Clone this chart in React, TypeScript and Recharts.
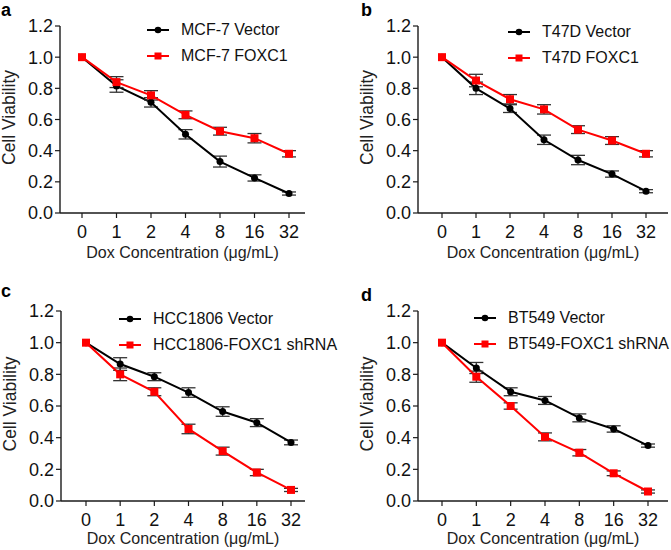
import React from 'react';
import { LineChart, Line, XAxis, YAxis, ErrorBar, Legend } from 'recharts';

const doses = ['0', '1', '2', '4', '8', '16', '32'];
const yTicks = [0, 0.2, 0.4, 0.6, 0.8, 1.0, 1.2];

// Panel a: MCF-7
const mcf7VectorNames = ['MCF-7 Vector', 'MCF-7 FOXC1'];
const mcf7Vector = [1.0, 0.815, 0.71, 0.505, 0.33, 0.225, 0.125];
const mcf7VectorErr = [0, 0.04, 0.03, 0.03, 0.035, 0.02, 0.01];
const mcf7Foxc1 = [1.0, 0.84, 0.755, 0.63, 0.525, 0.48, 0.38];
const mcf7Foxc1Err = [0, 0.035, 0.03, 0.025, 0.025, 0.03, 0.02];

// Panel b: T47D
const t47dNames = ['T47D Vector', 'T47D FOXC1'];
const t47dVector = [1.0, 0.80, 0.67, 0.47, 0.34, 0.25, 0.14];
const t47dVectorErr = [0, 0.04, 0.025, 0.03, 0.03, 0.02, 0.01];
const t47dFoxc1 = [1.0, 0.85, 0.73, 0.665, 0.535, 0.465, 0.38];
const t47dFoxc1Err = [0, 0.04, 0.03, 0.03, 0.025, 0.025, 0.02];

// Panel c: HCC1806
const hccNames = ['HCC1806 Vector', 'HCC1806-FOXC1 shRNA'];
const hccVector = [1.0, 0.865, 0.785, 0.685, 0.565, 0.495, 0.37];
const hccVectorErr = [0, 0.04, 0.025, 0.03, 0.03, 0.025, 0.015];
const hccShrna = [1.0, 0.80, 0.69, 0.455, 0.315, 0.18, 0.07];
const hccShrnaErr = [0, 0.04, 0.025, 0.03, 0.025, 0.02, 0.01];

// Panel d: BT549
const btNames = ['BT549 Vector', 'BT549-FOXC1 shRNA'];
const btVector = [1.0, 0.84, 0.69, 0.635, 0.525, 0.455, 0.35];
const btVectorErr = [0, 0.035, 0.025, 0.025, 0.025, 0.02, 0.01];
const btShrna = [1.0, 0.785, 0.60, 0.405, 0.305, 0.175, 0.06];
const btShrnaErr = [0, 0.035, 0.02, 0.025, 0.02, 0.015, 0.01];

const FONT = "Arial, 'Liberation Sans', Helvetica, sans-serif";
const AXIS = '#1a1a1a';

const build = (v: number[], ve: number[], t: number[], te: number[]) =>
  doses.map((d, i) => ({ dose: d, v: v[i], ve: ve[i], t: t[i], te: te[i] }));

const panels = [
  {
    letter: 'a', left: 0, top: 0, width: 335, height: 275,
    margin: { top: 26, right: 30, left: 0, bottom: 0 }, xh: 62, pad: { left: 22, right: 16 }, titleDy: 45,
    names: mcf7VectorNames, data: build(mcf7Vector, mcf7VectorErr, mcf7Foxc1, mcf7Foxc1Err),
    legend: { left: 147, top: 17 }, letterPos: { left: 1, top: 0 },
  },
  {
    letter: 'b', left: 335, top: 0, width: 336, height: 275,
    margin: { top: 26, right: 3, left: 23, bottom: 0 }, xh: 62, pad: { left: 24, right: 22 }, titleDy: 45,
    names: t47dNames, data: build(t47dVector, t47dVectorErr, t47dFoxc1, t47dFoxc1Err),
    legend: { left: 173, top: 19 }, letterPos: { left: 26, top: 0 },
  },
  {
    letter: 'c', left: 0, top: 275, width: 335, height: 275,
    margin: { top: 36, right: 30, left: 1, bottom: 0 }, xh: 49, pad: { left: 25, right: 14 }, titleDy: 43,
    names: hccNames, data: build(hccVector, hccVectorErr, hccShrna, hccShrnaErr),
    legend: { left: 119, top: 31 }, letterPos: { left: 1, top: 6 },
  },
  {
    letter: 'd', left: 335, top: 275, width: 336, height: 275,
    margin: { top: 36, right: 3, left: 23, bottom: 0 }, xh: 49, pad: { left: 24, right: 20 }, titleDy: 43,
    names: btNames, data: build(btVector, btVectorErr, btShrna, btShrnaErr),
    legend: { left: 139, top: 30 }, letterPos: { left: 26, top: 10 },
  },
];

const SquareDot = (props: any) => {
  const { cx, cy, index } = props;
  if (cx == null || cy == null) return <g key={index} />;
  return <rect key={index} x={cx - 4} y={cy - 4} width={8} height={8} fill="#ff0000" />;
};

const makeLegend = (names: string[]) => () => (
  <div style={{ fontFamily: FONT, fontSize: 16, color: '#111', whiteSpace: 'nowrap' }}>
    {names.map((n, i) => (
      <div key={n} style={{ display: 'flex', alignItems: 'center', height: 26 }}>
        <svg width={22} height={10} style={{ marginRight: 12 }}>
          <line x1={0} y1={5} x2={22} y2={5} stroke={i === 0 ? '#000' : '#ff0000'} strokeWidth={2} />
          {i === 0 ? (
            <circle cx={11} cy={5} r={3.3} fill="#000" />
          ) : (
            <rect x={7.5} y={1.5} width={7} height={7} fill="#ff0000" />
          )}
        </svg>
        <span>{n}</span>
      </div>
    ))}
  </div>
);

const XTitle = (dy: number) => (props: any) => {
  const vb = props.viewBox || {};
  return (
    <text x={vb.x + vb.width / 2} y={vb.y + dy} textAnchor="middle" fontSize={16} fontFamily={FONT} fill="#222">
      Dox Concentration (μg/mL)
    </text>
  );
};

const YTitle = (props: any) => {
  const vb = props.viewBox || {};
  const x = vb.x + vb.width - 51;
  const y = vb.y + vb.height / 2 - 2;
  return (
    <text x={x} y={y} dy="0.36em" transform={`rotate(-90, ${x}, ${y})`} textAnchor="middle" fontSize={17.5} fontFamily={FONT} fill="#222">
      Cell Viability
    </text>
  );
};

const Panel = ({ p }: { p: any }) => (
  <div style={{ position: 'absolute', left: p.left, top: p.top, width: p.width, height: p.height }}>
    <LineChart width={p.width} height={p.height} data={p.data} margin={p.margin}>
      <XAxis
        dataKey="dose"
        type="category"
        interval={0}
        padding={p.pad}
        height={p.xh}
        tickSize={5}
        tickMargin={7}
        axisLine={{ stroke: AXIS, strokeWidth: 1.4 }}
        tickLine={{ stroke: AXIS, strokeWidth: 1.2 }}
        tick={{ fontSize: 18, fill: '#111', fontFamily: FONT }}
        label={{ content: XTitle(p.titleDy) } as any}
      />
      <YAxis
        type="number"
        domain={[0, 1.2]}
        ticks={yTicks}
        interval={0}
        width={60}
        tickSize={5}
        tickMargin={2}
        allowDataOverflow
        tickFormatter={(v: number) => v.toFixed(1)}
        axisLine={{ stroke: AXIS, strokeWidth: 1.4 }}
        tickLine={{ stroke: AXIS, strokeWidth: 1.2 }}
        tick={{ fontSize: 18, fill: '#111', fontFamily: FONT }}
        label={{ content: YTitle } as any}
      />
      <Legend
        layout="vertical"
        align="center"
        verticalAlign="middle"
        wrapperStyle={{ position: 'absolute', left: p.legend.left, top: p.legend.top, width: 'auto' }}
        content={makeLegend(p.names)}
      />
      <Line
        dataKey="v"
        name={p.names[0]}
        stroke="#000"
        strokeWidth={2}
        dot={{ r: 3.5, fill: '#000', stroke: '#000', strokeWidth: 0 }}
        isAnimationActive={false}
      >
        <ErrorBar dataKey="ve" width={7} stroke="#333" strokeWidth={1.3} direction="y" />
      </Line>
      <Line
        dataKey="t"
        name={p.names[1]}
        stroke="#ff0000"
        strokeWidth={2}
        dot={SquareDot}
        isAnimationActive={false}
      >
        <ErrorBar dataKey="te" width={7} stroke="#333" strokeWidth={1.3} direction="y" />
      </Line>
    </LineChart>
    <div
      style={{
        position: 'absolute', left: p.letterPos.left, top: p.letterPos.top,
        fontFamily: FONT, fontWeight: 'bold', fontSize: 18, color: '#000', lineHeight: 'normal',
      }}
    >
      {p.letter}
    </div>
  </div>
);

export default function App() {
  return (
    <div style={{ position: 'absolute', left: 0, top: 0, width: 671, height: 550, background: '#fff', overflow: 'hidden' }}>
      {panels.map((p) => (
        <Panel key={p.letter} p={p} />
      ))}
    </div>
  );
}
